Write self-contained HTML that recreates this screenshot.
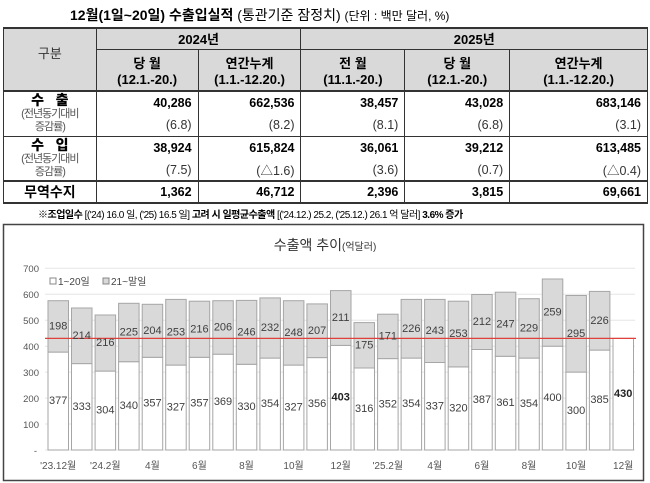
<!DOCTYPE html>
<html><head><meta charset="utf-8"><style>
body{margin:0;width:650px;height:483px;background:#fff;font-family:"Liberation Sans","Noto Sans CJK KR",sans-serif;position:relative;overflow:hidden}
.a{position:absolute}
table{position:absolute;left:3px;top:27px;border-collapse:collapse;width:645px;font-size:12.5px;color:#000}
td{border:1px solid #333;padding:0 6px;text-align:right;font-weight:bold}
.h{background:#d9d9d9;text-align:center;font-weight:bold;font-size:13px}
.n{font-weight:normal;color:#333}
.v td{border-bottom:none}
.p td{border-top:none}
.lab{text-align:center;padding:0;line-height:12px}
.s{font-size:11px;font-weight:normal;color:#555;letter-spacing:-1px}
</style></head><body>
<div class="a" style="left:70px;top:5px;font-size:14px;font-weight:bold;white-space:nowrap">12월(1일~20일) 수출입실적 <span style="font-weight:normal">(통관기준 잠정치)</span> <span style="font-weight:normal;font-size:12px">(단위 : 백만 달러, %)</span></div>
<table>
<colgroup><col style="width:93px"><col style="width:102px"><col style="width:103px"><col style="width:104px"><col style="width:105px"><col style="width:138px"></colgroup>
<tr style="height:21px;border-top:2px solid #333"><td class="h n" rowspan="2" style="font-weight:normal;font-size:13px;padding-bottom:14px">구분</td><td class="h" colspan="2">2024년</td><td class="h" colspan="3">2025년</td></tr>
<tr style="height:42px"><td class="h">당 월<br>(12.1.-20.)</td><td class="h">연간누계<br>(1.1.-12.20.)</td><td class="h">전 월<br>(11.1.-20.)</td><td class="h">당 월<br>(12.1.-20.)</td><td class="h">연간누계<br>(1.1.-12.20.)</td></tr>
<tr class="v" style="height:23px;border-top:2px solid #333"><td class="lab" rowspan="2" style="border-bottom:1px solid #333"><b style="font-size:14px">수 &nbsp; 출</b><br><span class="s">(전년동기대비<br>증감률)</span></td><td>40,286</td><td>662,536</td><td>38,457</td><td>43,028</td><td>683,146</td></tr>
<tr class="p" style="height:22px"><td class="n">(6.8)</td><td class="n">(8.2)</td><td class="n">(8.1)</td><td class="n">(6.8)</td><td class="n">(3.1)</td></tr>
<tr class="v" style="height:23px"><td class="lab" rowspan="2" style="border-bottom:1px solid #333"><b style="font-size:14px">수 &nbsp; 입</b><br><span class="s">(전년동기대비<br>증감률)</span></td><td>38,924</td><td>615,824</td><td>36,061</td><td>39,212</td><td>613,485</td></tr>
<tr class="p" style="height:22px"><td class="n">(7.5)</td><td class="n">(△1.6)</td><td class="n">(3.6)</td><td class="n">(0.7)</td><td class="n">(△0.4)</td></tr>
<tr style="height:22px;border-top:2px solid #333;border-bottom:2px solid #333"><td class="lab" style="font-size:14px;font-weight:bold">무역수지</td><td>1,362</td><td>46,712</td><td>2,396</td><td>3,815</td><td>69,661</td></tr>
</table>
<div class="a" style="left:38px;top:206px;font-size:10px;white-space:nowrap;letter-spacing:-0.5px"><b>※조업일수</b> [('24) 16.0 일, ('25) 16.5 일] <b>고려 시 일평균수출액</b> [('24.12.) 25.2, ('25.12.) 26.1 억 달러] <b>3.6% 증가</b></div>
<svg class="a" style="left:0;top:0" width="650" height="483" font-family="Liberation Sans,Noto Sans CJK KR,sans-serif">
<rect x="3.5" y="224.5" width="640" height="256" fill="none" stroke="#444" stroke-width="1.5"/>
<text x="325" y="250" font-size="14" text-anchor="middle" fill="#333">수출액 추이<tspan font-size="10">(억달러)</tspan></text>
<g stroke="#e6e6e6" stroke-width="1"><line x1="45" x2="635" y1="268.3" y2="268.3"/><line x1="45" x2="635" y1="294.3" y2="294.3"/><line x1="45" x2="635" y1="320.2" y2="320.2"/><line x1="45" x2="635" y1="346.2" y2="346.2"/><line x1="45" x2="635" y1="372.1" y2="372.1"/><line x1="45" x2="635" y1="398.1" y2="398.1"/><line x1="45" x2="635" y1="424" y2="424"/><line x1="45" x2="635" y1="450" y2="450"/></g>
<g font-size="9.5" fill="#555" text-anchor="end"><text x="39" y="272">700</text><text x="39" y="298">600</text><text x="39" y="324">500</text><text x="39" y="350">400</text><text x="39" y="376">300</text><text x="39" y="402">200</text><text x="39" y="428">100</text><text x="37" y="454">-</text></g>
<g font-size="10" fill="#444"><rect x="50" y="278" width="6" height="6" fill="#fff" stroke="#888"/><text x="58" y="285">1~20일</text><rect x="103" y="278" width="6" height="6" fill="#d9d9d9" stroke="#888"/><text x="111" y="285">21~말일</text></g>
<g stroke="#a6a6a6" stroke-width="1">
<rect x="48" y="352.1" width="20.5" height="97.9" fill="#fff"/><rect x="48" y="300.7" width="20.5" height="51.4" fill="#d9d9d9"/>
<rect x="71.5" y="363.6" width="20.5" height="86.4" fill="#fff"/><rect x="71.5" y="308" width="20.5" height="55.6" fill="#d9d9d9"/>
<rect x="95.1" y="371.1" width="20.5" height="78.9" fill="#fff"/><rect x="95.1" y="315" width="20.5" height="56.1" fill="#d9d9d9"/>
<rect x="118.6" y="361.7" width="20.5" height="88.3" fill="#fff"/><rect x="118.6" y="303.3" width="20.5" height="58.4" fill="#d9d9d9"/>
<rect x="142.2" y="357.3" width="20.5" height="92.7" fill="#fff"/><rect x="142.2" y="304.3" width="20.5" height="53" fill="#d9d9d9"/>
<rect x="165.7" y="365.1" width="20.5" height="84.9" fill="#fff"/><rect x="165.7" y="299.4" width="20.5" height="65.7" fill="#d9d9d9"/>
<rect x="189.2" y="357.3" width="20.5" height="92.7" fill="#fff"/><rect x="189.2" y="301.2" width="20.5" height="56.1" fill="#d9d9d9"/>
<rect x="212.8" y="354.2" width="20.5" height="95.8" fill="#fff"/><rect x="212.8" y="300.7" width="20.5" height="53.5" fill="#d9d9d9"/>
<rect x="236.3" y="364.3" width="20.5" height="85.7" fill="#fff"/><rect x="236.3" y="300.4" width="20.5" height="63.9" fill="#d9d9d9"/>
<rect x="259.9" y="358.1" width="20.5" height="91.9" fill="#fff"/><rect x="259.9" y="297.9" width="20.5" height="60.2" fill="#d9d9d9"/>
<rect x="283.4" y="365.1" width="20.5" height="84.9" fill="#fff"/><rect x="283.4" y="300.7" width="20.5" height="64.4" fill="#d9d9d9"/>
<rect x="306.9" y="357.6" width="20.5" height="92.4" fill="#fff"/><rect x="306.9" y="303.9" width="20.5" height="53.7" fill="#d9d9d9"/>
<rect x="330.5" y="345.4" width="20.5" height="104.6" fill="#fff"/><rect x="330.5" y="290.6" width="20.5" height="54.8" fill="#d9d9d9"/>
<rect x="354" y="368" width="20.5" height="82" fill="#fff"/><rect x="354" y="322.6" width="20.5" height="45.4" fill="#d9d9d9"/>
<rect x="377.6" y="358.6" width="20.5" height="91.4" fill="#fff"/><rect x="377.6" y="314.2" width="20.5" height="44.4" fill="#d9d9d9"/>
<rect x="401.1" y="358.1" width="20.5" height="91.9" fill="#fff"/><rect x="401.1" y="299.4" width="20.5" height="58.7" fill="#d9d9d9"/>
<rect x="424.6" y="362.5" width="20.5" height="87.5" fill="#fff"/><rect x="424.6" y="299.4" width="20.5" height="63.1" fill="#d9d9d9"/>
<rect x="448.2" y="366.9" width="20.5" height="83.1" fill="#fff"/><rect x="448.2" y="301.2" width="20.5" height="65.7" fill="#d9d9d9"/>
<rect x="471.7" y="349.5" width="20.5" height="100.5" fill="#fff"/><rect x="471.7" y="294.5" width="20.5" height="55" fill="#d9d9d9"/>
<rect x="495.3" y="356.3" width="20.5" height="93.7" fill="#fff"/><rect x="495.3" y="292.2" width="20.5" height="64.1" fill="#d9d9d9"/>
<rect x="518.8" y="358.1" width="20.5" height="91.9" fill="#fff"/><rect x="518.8" y="298.7" width="20.5" height="59.4" fill="#d9d9d9"/>
<rect x="542.3" y="346.2" width="20.5" height="103.8" fill="#fff"/><rect x="542.3" y="279" width="20.5" height="67.2" fill="#d9d9d9"/>
<rect x="565.9" y="372.1" width="20.5" height="77.9" fill="#fff"/><rect x="565.9" y="295.5" width="20.5" height="76.6" fill="#d9d9d9"/>
<rect x="589.4" y="350.1" width="20.5" height="99.9" fill="#fff"/><rect x="589.4" y="291.4" width="20.5" height="58.7" fill="#d9d9d9"/>
<rect x="613" y="338.4" width="20.5" height="111.6" fill="#fff"/>
</g>
<line x1="45" x2="636" y1="338.4" y2="338.4" stroke="#e0403a" stroke-width="1.2"/>
<g font-size="11" fill="#404040" text-anchor="middle" dominant-baseline="central">
<text x="58.2" y="401.1">377</text><text x="58.2" y="326.4">198</text>
<text x="81.7" y="406.8">333</text><text x="81.7" y="335.8">214</text>
<text x="105.3" y="410.6">304</text><text x="105.3" y="343.1">216</text>
<text x="128.8" y="405.9">340</text><text x="128.8" y="332.5">225</text>
<text x="152.4" y="403.7">357</text><text x="152.4" y="330.8">204</text>
<text x="175.9" y="407.6">327</text><text x="175.9" y="332.3">253</text>
<text x="199.4" y="403.7">357</text><text x="199.4" y="329.3">216</text>
<text x="223" y="402.1">369</text><text x="223" y="327.5">206</text>
<text x="246.5" y="407.2">330</text><text x="246.5" y="332.4">246</text>
<text x="270.1" y="404.1">354</text><text x="270.1" y="328">232</text>
<text x="293.6" y="407.6">327</text><text x="293.6" y="332.9">248</text>
<text x="317.1" y="403.8">356</text><text x="317.1" y="330.8">207</text>
<text x="340.7" y="397.7" font-weight="bold" fill="#222">403</text><text x="340.7" y="318">211</text>
<text x="364.2" y="409">316</text><text x="364.2" y="345.3">175</text>
<text x="387.8" y="404.3">352</text><text x="387.8" y="336.4">171</text>
<text x="411.3" y="404.1">354</text><text x="411.3" y="328.8">226</text>
<text x="434.8" y="406.3">337</text><text x="434.8" y="331">243</text>
<text x="458.4" y="408.5">320</text><text x="458.4" y="334.1">253</text>
<text x="481.9" y="399.8">387</text><text x="481.9" y="322">212</text>
<text x="505.5" y="403.2">361</text><text x="505.5" y="324.3">247</text>
<text x="529" y="404.1">354</text><text x="529" y="328.4">229</text>
<text x="552.5" y="398.1">400</text><text x="552.5" y="312.6">259</text>
<text x="576.1" y="411.1">300</text><text x="576.1" y="333.8">295</text>
<text x="599.6" y="400.1">385</text><text x="599.6" y="320.8">226</text>
<text x="623.2" y="394.2" font-weight="bold" fill="#222">430</text>
</g>
<g font-size="10" fill="#555" text-anchor="middle">
<text x="58.2" y="469">'23.12월</text><text x="105.3" y="469">'24.2월</text><text x="152.4" y="469">4월</text><text x="199.4" y="469">6월</text><text x="246.5" y="469">8월</text><text x="293.6" y="469">10월</text><text x="340.7" y="469">12월</text><text x="387.8" y="469">'25.2월</text><text x="434.8" y="469">4월</text><text x="481.9" y="469">6월</text><text x="529" y="469">8월</text><text x="576.1" y="469">10월</text><text x="623.2" y="469">12월</text>
</g>
</svg>
</body></html>
